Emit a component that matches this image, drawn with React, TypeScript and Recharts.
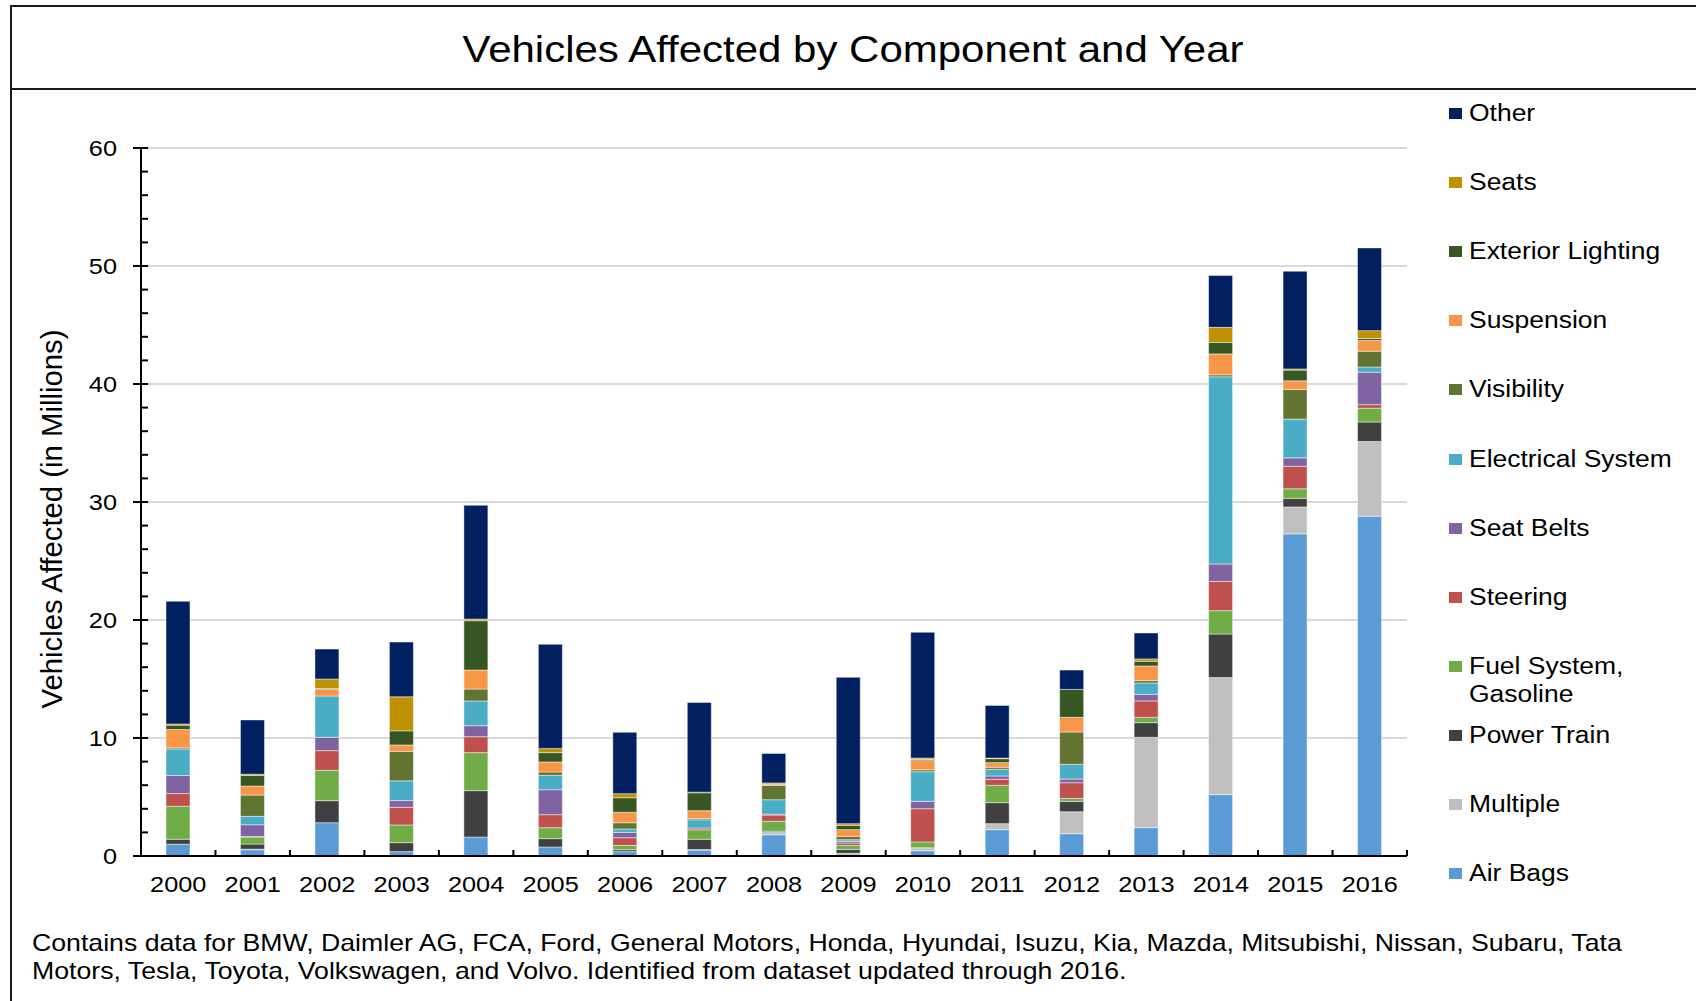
import React from 'react';
import { BarChart, Bar, XAxis, YAxis, CartesianGrid } from 'recharts';

// values in millions (one entry per year)
const years = ['2000', '2001', '2002', '2003', '2004', '2005', '2006', '2007', '2008', '2009', '2010', '2011', '2012', '2013', '2014', '2015', '2016'];

const airBags = [1.0, 0.53, 2.82, 0.37, 1.61, 0.76, 0.37, 0.5, 1.8, 0.05, 0.45, 2.23, 1.89, 2.4, 5.2, 27.3, 28.8];
const multiple = [0, 0.05, 0, 0, 0, 0, 0, 0.05, 0.2, 0.18, 0.2, 0.51, 1.86, 7.66, 9.92, 2.28, 6.33];
const powerTrain = [0.42, 0.43, 1.87, 0.76, 3.93, 0.71, 0.16, 0.87, 0.1, 0.33, 0.05, 1.78, 0.88, 1.24, 3.69, 0.73, 1.65];
const fuelSystem = [2.8, 0.59, 2.57, 1.5, 3.22, 0.93, 0.37, 0.8, 0.84, 0.34, 0.49, 1.47, 0.26, 0.45, 1.98, 0.81, 1.17];
const steering = [1.07, 0.05, 1.67, 1.5, 1.35, 1.1, 0.65, 0.15, 0.53, 0.2, 2.82, 0.51, 1.32, 1.39, 2.48, 1.91, 0.3];
const seatBelts = [1.53, 1.0, 1.13, 0.57, 0.93, 2.12, 0.45, 0, 0.08, 0.14, 0.62, 0.28, 0.31, 0.56, 1.48, 0.71, 2.75];
const electrical = [2.25, 0.71, 3.5, 1.67, 2.1, 1.22, 0.29, 0.7, 1.22, 0.14, 2.51, 0.57, 1.25, 0.96, 15.86, 3.28, 0.44];
const visibility = [0.1, 1.8, 0, 2.5, 1.01, 0.28, 0.53, 0.12, 1.22, 0.29, 0.17, 0.17, 2.74, 0.2, 0.17, 2.52, 1.34];
const suspension = [1.55, 0.77, 0.56, 0.54, 1.61, 0.85, 0.88, 0.65, 0.1, 0.56, 0.77, 0.39, 1.24, 1.24, 1.77, 0.73, 0.91];
const extLighting = [0.37, 0.9, 0.08, 1.2, 4.18, 0.79, 1.24, 1.52, 0, 0.37, 0.1, 0.34, 2.37, 0.4, 0.98, 0.91, 0.17];
const seats = [0.1, 0.1, 0.8, 2.88, 0.14, 0.36, 0.34, 0.05, 0.1, 0.14, 0.12, 0.05, 0, 0.2, 1.27, 0.1, 0.66];
const other = [10.4, 4.6, 2.54, 4.64, 9.64, 8.82, 5.2, 7.6, 2.5, 12.4, 10.66, 4.46, 1.64, 2.2, 4.39, 8.28, 7.01];

const yTicks = [0, 2, 4, 6, 8, 10, 12, 14, 16, 18, 20, 22, 24, 26, 28, 30, 32, 34, 36, 38, 40, 42, 44, 46, 48, 50, 52, 54, 56, 58, 60];
const gridValues = [10, 20, 30, 40, 50, 60];

// stack order, bottom to top
const SERIES = [
  { key: 'airBags', name: 'Air Bags', color: '#5B9BD5', values: airBags },
  { key: 'multiple', name: 'Multiple', color: '#BFBFBF', values: multiple },
  { key: 'powerTrain', name: 'Power Train', color: '#404040', values: powerTrain },
  { key: 'fuelSystem', name: 'Fuel System,\nGasoline', color: '#70AD47', values: fuelSystem },
  { key: 'steering', name: 'Steering', color: '#C0504D', values: steering },
  { key: 'seatBelts', name: 'Seat Belts', color: '#8064A2', values: seatBelts },
  { key: 'electrical', name: 'Electrical System', color: '#4BACC6', values: electrical },
  { key: 'visibility', name: 'Visibility', color: '#617431', values: visibility },
  { key: 'suspension', name: 'Suspension', color: '#F79646', values: suspension },
  { key: 'extLighting', name: 'Exterior Lighting', color: '#375623', values: extLighting },
  { key: 'seats', name: 'Seats', color: '#BF9000', values: seats },
  { key: 'other', name: 'Other', color: '#002060', values: other },
];

const chartData = years.map((year, i) => {
  const row: any = { year };
  SERIES.forEach(s => { row[s.key] = s.values[i]; });
  return row;
});

const W = 1696;
const H = 1001;
const PLOT_L = 141;
const PLOT_R = 1407;
const PLOT_T = 148;
const PLOT_B = 856;
const YAXIS_W = 60;
const XAXIS_H = 50;
const STEP = (PLOT_R - PLOT_L) / years.length;
const SX = 1.15; // the picture is a bit stretched sideways
const FONT = '"Liberation Sans", Arial, sans-serif';

const YTick = (props: any) => {
  const { x, y, payload } = props;
  const v = payload.value;
  const major = v % 10 === 0;
  return (
    <g>
      <line x1={major ? x - 8 : x} x2={x + 7} y1={y} y2={y} stroke="#000" strokeWidth={2} />
      {major && (
        <text transform={`translate(${x - 24},${y + 8}) scale(${SX},1)`} textAnchor="end" fontSize={22} fill="#000" fontFamily={FONT}>
          {v}
        </text>
      )}
    </g>
  );
};

const XTick = (props: any) => {
  const { x, y, payload } = props;
  return (
    <g>
      <line x1={x + STEP / 2} x2={x + STEP / 2} y1={y} y2={y - 6} stroke="#000" strokeWidth={2} />
      <text transform={`translate(${x},${y + 36}) scale(${SX},1)`} textAnchor="middle" fontSize={22} fill="#000" fontFamily={FONT}>
        {payload.value}
      </text>
    </g>
  );
};

const LEG_TOP = 113;
const LEG_STEP = 69.1;

export default function App() {
  const legendItems = [...SERIES].reverse();
  return (
    <div style={{ position: 'absolute', left: 0, top: 0, width: W, height: H, overflow: 'hidden', background: '#fff', fontFamily: FONT, color: '#000' }}>
      {/* frame */}
      <div style={{ position: 'absolute', left: 10, top: 5, width: W, height: H, borderLeft: '2px solid #1a1a1a', borderTop: '2px solid #1a1a1a' }} />
      <div style={{ position: 'absolute', left: 10, top: 88, width: W, height: 2, background: '#1a1a1a' }} />

      <div style={{ position: 'absolute', left: 10, width: W - 10, top: 28, lineHeight: '44px', fontSize: 36.5, textAlign: 'center', transform: `scaleX(${SX})`, transformOrigin: '50% 50%', whiteSpace: 'nowrap' }}>
        Vehicles Affected by Component and Year
      </div>

      <div style={{ position: 'absolute', left: 52, top: 519, width: 0, height: 0 }}>
        <div style={{ position: 'absolute', left: -250, top: -18, width: 500, lineHeight: '36px', fontSize: 29.3, textAlign: 'center', whiteSpace: 'nowrap', transform: 'rotate(-90deg)', transformOrigin: '50% 50%' }}>
          Vehicles Affected (in Millions)
        </div>
      </div>

      <div style={{ position: 'absolute', left: 0, top: 0 }}>
        <BarChart
          width={W}
          height={H}
          data={chartData}
          margin={{ top: PLOT_T, right: W - PLOT_R, bottom: H - PLOT_B - XAXIS_H, left: PLOT_L - YAXIS_W }}
          barSize={24}
        >
          <CartesianGrid vertical={false} horizontalValues={gridValues} stroke="#d9d9d9" strokeWidth={2} />
          <XAxis
            dataKey="year"
            interval={0}
            height={XAXIS_H}
            tickSize={0}
            tickMargin={0}
            tickLine={false}
            axisLine={{ stroke: '#000', strokeWidth: 2 }}
            tick={<XTick />}
          />
          <YAxis
            domain={[0, 60]}
            ticks={yTicks}
            interval={0}
            width={YAXIS_W}
            tickSize={0}
            tickMargin={0}
            tickLine={false}
            axisLine={{ stroke: '#000', strokeWidth: 2 }}
            tick={<YTick />}
          />
          {SERIES.map(s => (
            <Bar
              key={s.key}
              dataKey={s.key}
              name={s.name}
              stackId="a"
              fill={s.color}
              stroke="rgba(255,255,255,0.45)"
              strokeWidth={1}
              isAnimationActive={false}
            />
          ))}
        </BarChart>
      </div>

      {legendItems.map((s, i) => {
        const cy = LEG_TOP + i * LEG_STEP;
        return (
          <div key={s.key}>
            <div style={{ position: 'absolute', left: 1449, top: cy - 5, width: 13, height: 11, background: s.color }} />
            <div style={{ position: 'absolute', left: 1469, top: cy - 14, lineHeight: '28px', fontSize: 23, whiteSpace: 'pre', transform: `scaleX(${SX})`, transformOrigin: '0 0' }}>
              {s.name}
            </div>
          </div>
        );
      })}

      <div style={{ position: 'absolute', left: 32, top: 929, lineHeight: '28px', fontSize: 23.2, whiteSpace: 'pre', transform: `scaleX(${SX})`, transformOrigin: '0 0' }}>
        {'Contains data for BMW, Daimler AG, FCA, Ford, General Motors, Honda, Hyundai, Isuzu, Kia, Mazda, Mitsubishi, Nissan, Subaru, Tata\nMotors, Tesla, Toyota, Volkswagen, and Volvo. Identified from dataset updated through 2016.'}
      </div>
    </div>
  );
}
